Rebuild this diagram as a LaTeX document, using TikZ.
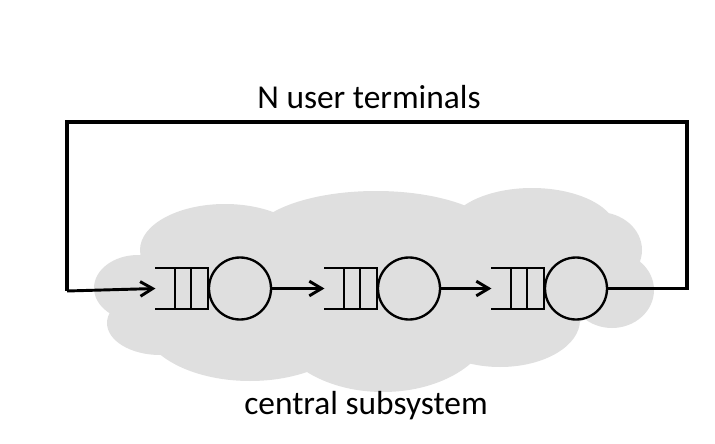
\documentclass[tikz,border=0pt]{standalone}
\usepackage{fontspec}
\setmainfont{Carlito}
\usepackage{xcolor}
\usepackage{tikz}
\usetikzlibrary{positioning, calc, arrows.meta}
\definecolor{cloudgray}{RGB}{223,223,223}
\tikzstyle{arrow} = [line width=2.5pt,-{Straight Barb[length=10.5pt,width=12.5pt,line width=2.5pt]}]

\begin{document}
\begin{tikzpicture}[x=0.03cm, y=-0.03cm, semithick]
	\tikzstyle{server}=[circle,draw=black,line width=2pt,inner sep=0pt,minimum size=1.86cm]
	\tikzstyle{queue}=[rectangle,inner sep=0pt,minimum width=1.55cm,minimum height=1.2cm]
	\tikzstyle{queueline}=[line width=2pt,line join=miter]
	\tikzstyle{loopline}=[line width=2.6pt,line join=miter]
	\tikzstyle{label}=[font=\fontsize{28.5}{34}\selectfont,anchor=base]
	\useasboundingbox (0,0) rectangle (715,444);
	\fill[cloudgray] (380,290) ellipse [x radius=235, y radius=60]
		(376,240) ellipse [x radius=125, y radius=49]
		(225,250) ellipse [x radius=85, y radius=46]
		(532,232) ellipse [x radius=85, y radius=44]
		(598,250) ellipse [x radius=44, y radius=38]
		(612,290) ellipse [x radius=42, y radius=38]
		(138,288) ellipse [x radius=44, y radius=33]
		(160,323) ellipse [x radius=53, y radius=32]
		(250,320) ellipse [x radius=109, y radius=61]
		(383,320) ellipse [x radius=110, y radius=72]
		(500,320) ellipse [x radius=80, y radius=47];
	\node[server]    (s1) at (240,288.5) {};
	\node[server]    (s2) at (409,288.5) {};
	\node[server]    (s3) at (576,288.5) {};
	\node[queue]     (q1) [left=0pt of s1] {};
	\node[queue]     (q2) [left=0pt of s2] {};
	\node[queue]     (q3) [left=0pt of s3] {};
	\node[label]     (top) at (369,108) {N user terminals};
	\node[label]     (bottom) at (366,414) {central subsystem};
	\coordinate (lt) at (67,122);
	\coordinate (lb) at (67,291);
	\coordinate (rt) at (687,122);
	\coordinate (rb) at (687,288.5);
	\foreach \q in {q1,q2,q3}{
		\draw[queueline] (\q.north west) -- (\q.north east) -- (\q.south east) -- (\q.south west);
		\draw[queueline] ($(\q.north west)!0.37!(\q.north east)$) -- ($(\q.south west)!0.37!(\q.south east)$);
		\draw[queueline] ($(\q.north west)!0.68!(\q.north east)$) -- ($(\q.south west)!0.68!(\q.south east)$);
	}
	\draw[arrow] (s1) -- (q2);
	\draw[arrow] (s2) -- (q3);
	\draw[loopline] (s3.east) -- (rb) -- (rt) -- (lt) -- (lb);
	\draw[arrow] (lb) -- (q1.west);
\end{tikzpicture}
\end{document}
